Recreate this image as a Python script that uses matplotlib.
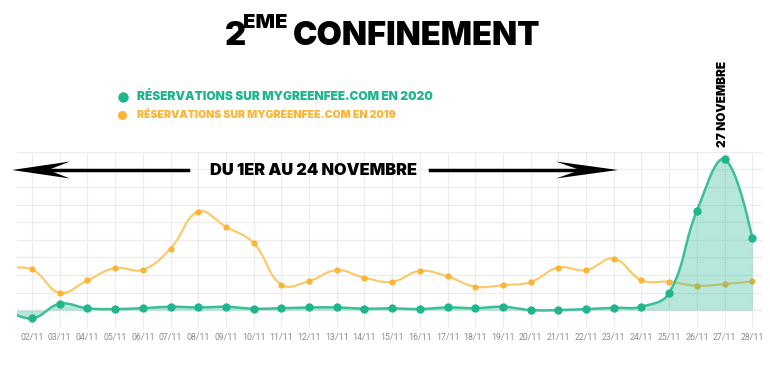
import numpy as np
import matplotlib
matplotlib.use("Agg")
import matplotlib.pyplot as plt
from matplotlib import font_manager as fm
from matplotlib.patches import Polygon

# data (one unit = one gridline step)
days = ["01/11", "02/11", "03/11", "04/11", "05/11", "06/11", "07/11", "08/11",
        "09/11", "10/11", "11/11", "12/11", "13/11", "14/11", "15/11", "16/11",
        "17/11", "18/11", "19/11", "20/11", "21/11", "22/11", "23/11", "24/11",
        "25/11", "26/11", "27/11", "28/11"]
resa_2020 = [0.05, -0.47, 0.36, 0.10, 0.06, 0.11, 0.19, 0.15, 0.19, 0.08, 0.11,
             0.15, 0.15, 0.08, 0.10, 0.06, 0.15, 0.11, 0.19, 0.00, 0.00, 0.06,
             0.13, 0.19, 0.98, 5.64, 8.56, 4.07]
resa_2019 = [2.35, 2.31, 0.98, 1.69, 2.39, 2.29, 3.50, 5.60, 4.73, 3.81, 1.44,
             1.65, 2.27, 1.84, 1.61, 2.23, 1.91, 1.33, 1.42, 1.59, 2.42, 2.27,
             2.93, 1.70, 1.61, 1.38, 1.48, 1.63]

GREEN = "#1fb58d"
YELLOW = "#fbb534"
W, H = 770, 373


def heavy_family():
    for name in ["Noto Sans", "Inter", "Lato", "Open Sans", "Roboto"]:
        ws = [f.weight for f in fm.fontManager.ttflist
              if f.name == name and f.style == "normal" and isinstance(f.weight, int)]
        if ws and max(ws) >= 800:
            return name, max(ws)
    return "DejaVu Sans", 700


FAM, WGT = heavy_family()
HEAVY = [FAM, "DejaVu Sans"]


def px(x, y):
    return x / W, 1 - y / H


def fit(fig, txt, target, vertical=False):
    # scale the font so the text spans target pixels
    bb = txt.get_window_extent(fig.canvas.get_renderer())
    cur = bb.height if vertical else bb.width
    txt.set_fontsize(txt.get_fontsize() * target / cur)


def smooth(xs, ys, sx=27.7, sy=17.6, t=0.4, n=20):
    # chart.js-like cubic spline, computed in pixel-ish space
    P = np.column_stack([np.asarray(xs, float) * sx, np.asarray(ys, float) * sy])
    k = len(P)
    cin, cout = P.copy(), P.copy()
    for i in range(1, k - 1):
        d01 = np.hypot(*(P[i] - P[i - 1]))
        d12 = np.hypot(*(P[i + 1] - P[i]))
        s = d01 + d12
        v = P[i + 1] - P[i - 1]
        cin[i] = P[i] - t * d01 / s * v
        cout[i] = P[i] + t * d12 / s * v
    u = np.linspace(0, 1, n)[:, None]
    segs = []
    for i in range(k - 1):
        a, b, c, d = P[i], cout[i], cin[i + 1], P[i + 1]
        seg = (1 - u) ** 3 * a + 3 * (1 - u) ** 2 * u * b + 3 * (1 - u) * u ** 2 * c + u ** 3 * d
        segs.append(seg if i == 0 else seg[1:])
    out = np.vstack(segs)
    return out[:, 0] / sx, out[:, 1] / sy


def main():
    fig = plt.figure(figsize=(7.7, 3.73), dpi=100)
    l, b = px(17, 327.7)
    r, t = px(762, 151.7)
    ax = fig.add_axes([l, b, r - l, t - b])

    idx = np.arange(len(days))
    ax.set_xlim(0.458, 27.35)
    ax.set_ylim(-1, 9)
    ax.set_yticks(np.arange(-1, 10))
    ax.set_xticks(idx[1:])
    ax.set_xticklabels(days[1:], fontsize=6.3, color="#8c8c8c", family="Roboto")
    ax.tick_params(length=0, pad=4, labelleft=False)
    ax.grid(True, color="#ececec", lw=0.8, zorder=0)
    for s in ax.spines.values():
        s.set_visible(False)
    ax.axhline(0, color="#d2d2d2", lw=0.9, zorder=1)

    sx, sy = smooth(idx, resa_2019)
    ax.plot(sx, sy, color="#fcc865", lw=1.5, zorder=2)
    ax.plot(idx, resa_2019, "o", color=YELLOW, ms=4.5, mew=0, zorder=2)

    gx, gy = smooth(idx, resa_2020)
    ax.fill_between(gx, gy, 0, color=GREEN, alpha=0.32, lw=0, zorder=3)
    ax.plot(gx, gy, color="#3cbf98", lw=1.8, zorder=4)
    ax.plot(idx, resa_2020, "o", color=GREEN, ms=6, mew=0, zorder=5)

    kw = dict(fontweight=WGT, family=HEAVY)
    peak = int(np.argmax(resa_2020))
    lab = ax.annotate("27 NOVEMBRE", xy=(idx[peak], resa_2020[peak]), xytext=(-1, 9),
                      textcoords="offset points", rotation=90, ha="center", va="bottom",
                      fontsize=8, color="black", annotation_clip=False, **kw)
    fit(fig, lab, 86, vertical=True)

    # title
    two = fig.text(*px(225, 45), "2", fontsize=16, ha="left", va="baseline", **kw)
    eme = fig.text(*px(243, 28), "EME", fontsize=8, ha="left", va="baseline", **kw)
    conf = fig.text(*px(293, 45), "CONFINEMENT", fontsize=16, ha="left", va="baseline", **kw)
    fit(fig, conf, 247)
    two.set_fontsize(conf.get_fontsize())
    fit(fig, eme, 44)

    # legend
    fig.add_artist(plt.Line2D([px(123, 97)[0]], [px(123, 97)[1]], marker="o", ms=7.5,
                              mew=0, color=GREEN, transform=fig.transFigure))
    fig.add_artist(plt.Line2D([px(122, 115)[0]], [px(122, 115)[1]], marker="o", ms=6.5,
                              mew=0, color=YELLOW, transform=fig.transFigure))
    t1 = fig.text(*px(137, 97), "RÉSERVATIONS SUR MYGREENFEE.COM EN 2020", fontsize=7,
                  color=GREEN, ha="left", va="center", **kw)
    t2 = fig.text(*px(137, 115), "RÉSERVATIONS SUR MYGREENFEE.COM EN 2019", fontsize=6,
                  color=YELLOW, ha="left", va="center", **kw)
    fit(fig, t1, 299)
    fit(fig, t2, 257)

    # arrows and period label
    per = fig.text(*px(314, 170), "DU 1ER AU 24 NOVEMBRE", fontsize=11,
                   ha="center", va="center", **kw)
    fit(fig, per, 208)
    fig.lines.append(plt.Line2D(*zip(px(45, 170), px(188, 170)), transform=fig.transFigure,
                                color="black", lw=2.5))
    fig.lines.append(plt.Line2D(*zip(px(430, 170), px(590, 170)), transform=fig.transFigure,
                                color="black", lw=2.5))
    left_head = [px(12, 170), px(70, 161.5), px(48, 170), px(70, 178.5)]
    right_head = [px(618, 170), px(556, 161.5), px(580, 170), px(556, 178.5)]
    for pts in (left_head, right_head):
        fig.patches.append(Polygon(pts, closed=True, transform=fig.transFigure,
                                   color="black", lw=0))

    fig.savefig("out.png", dpi=100)


if __name__ == "__main__":
    main()
